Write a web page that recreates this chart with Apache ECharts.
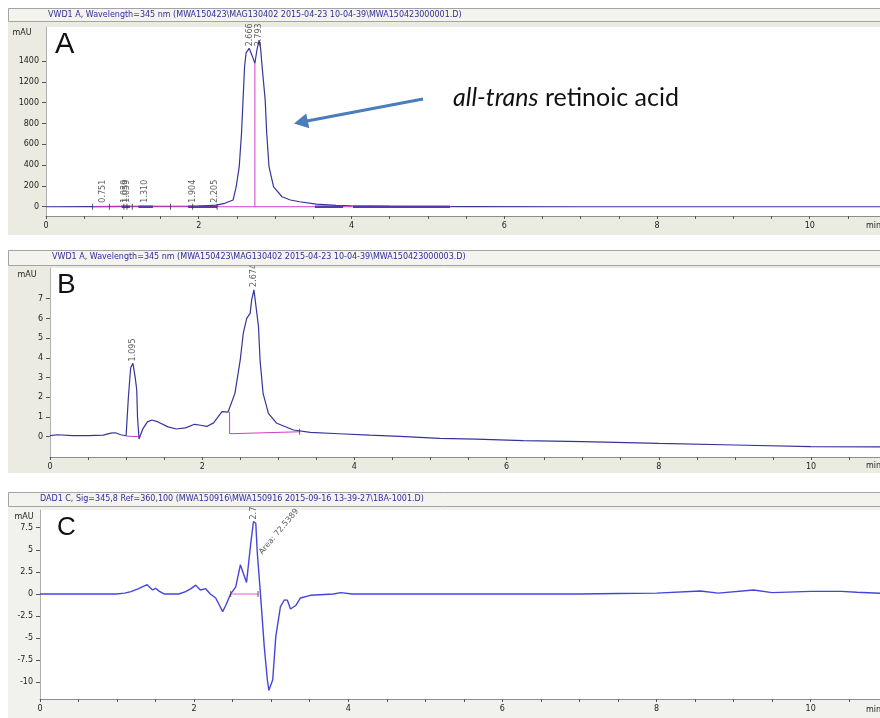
<!DOCTYPE html>
<html><head><meta charset="utf-8">
<script src="https://cdn.jsdelivr.net/npm/echarts@6/dist/echarts.min.js"></script>
<style>html,body{margin:0;padding:0;background:#fff}#c{width:880px;height:718px}</style>
</head><body><div id="c"></div>
<script>
// ---------- Panel A ----------
const aTime  = [0, 0.6, 1.0, 1.5, 2.0, 2.23, 2.34, 2.45, 2.49, 2.53, 2.56, 2.58, 2.60, 2.62, 2.66, 2.70, 2.735, 2.76, 2.79, 2.81, 2.83, 2.87, 2.89, 2.92, 2.98, 3.09, 3.2, 3.32, 3.54, 3.8, 4.0, 4.5, 5.5, 7, 9, 10.92];
const aValue = [0, 2, 3, 4, 5, 15, 33, 65, 190, 385, 706, 1025, 1346, 1480, 1523, 1450, 1378, 1500, 1603, 1520, 1346, 1025, 706, 385, 192, 96, 65, 48, 26, 14, 8, 4, 1, 0, 0, 0];
const aPeakTimes  = [0.746, 1.035, 1.055, 1.30, 1.92, 2.21, 2.666, 2.793];
const aPeakLevels = [20, 20, 20, 20, 20, 20, 1523, 1523];
const aPeakLabels = ['0.751', '1.039', '1.059', '1.310', '1.904', '2.205', '2.666', '2.793'];
const aMarkTimes  = [0.61, 0.83, 1.02, 1.06, 1.13, 1.63, 1.92, 2.24];
const aSegStart   = [0.99, 1.21, 1.86, 3.52, 4.02];
const aSegEnd     = [1.10, 1.40, 2.24, 3.89, 5.29];
const aBaseTime   = [0.61, 5.3];
const aBaseValue  = [0, 0];
const aDropTime   = [2.735, 2.735];
const aDropValue  = [0, 1378];
const aYLabels    = [0, 200, 400, 600, 800, 1000, 1200, 1400];

// ---------- Panel B ----------
const bTime  = [0, 0.1, 0.3, 0.5, 0.7, 0.8, 0.86, 0.93, 1.0, 1.03, 1.06, 1.09, 1.12, 1.14, 1.15, 1.17, 1.22, 1.28, 1.34, 1.42, 1.55, 1.66, 1.78, 1.90, 1.98, 2.06, 2.15, 2.26, 2.34, 2.365, 2.43, 2.50, 2.54, 2.585, 2.63, 2.65, 2.68, 2.70, 2.74, 2.76, 2.80, 2.87, 2.98, 3.20, 3.42, 3.8, 4.2, 4.6, 5.12, 5.6, 6.22, 7, 8, 9, 10, 10.91];
const bValue = [0.05, 0.1, 0.05, 0.05, 0.08, 0.18, 0.2, 0.1, 0.05, 2.0, 3.5, 3.72, 3.0, 2.37, 1.0, -0.12, 0.4, 0.75, 0.85, 0.75, 0.5, 0.39, 0.45, 0.63, 0.58, 0.52, 0.7, 1.27, 1.25, 1.27, 2.2, 3.9, 5.25, 6.0, 6.26, 6.94, 7.45, 7.5, 5.58, 3.9, 2.2, 1.18, 0.68, 0.34, 0.22, 0.15, 0.08, 0.02, -0.08, -0.12, -0.2, -0.25, -0.34, -0.42, -0.5, -0.52];
const bPeakTimes  = [1.095, 2.674];
const bPeakLevels = [3.72, 7.5];
const bPeakLabels = ['1.095', '2.674'];
const bBase1Time  = [1.0, 1.17];
const bBase1Value = [0.03, 0.0];
const bBase2Time  = [2.36, 2.36, 3.28];
const bBase2Value = [1.27, 0.15, 0.25];
const bMarkTimes  = [3.28];
const bMarkValues = [0.25];
const bYLabels    = [0, 1, 2, 3, 4, 5, 6, 7];

// ---------- Panel C ----------
const cTime  = [0, 0.5, 0.99, 1.1, 1.18, 1.28, 1.39, 1.46, 1.50, 1.55, 1.61, 1.8, 1.89, 1.96, 2.02, 2.08, 2.15, 2.21, 2.28, 2.33, 2.37, 2.41, 2.47, 2.54, 2.60, 2.68, 2.73, 2.77, 2.80, 2.82, 2.86, 2.91, 2.95, 2.97, 3.02, 3.06, 3.12, 3.17, 3.21, 3.25, 3.32, 3.38, 3.51, 3.81, 3.9, 4.05, 5, 6, 7, 7.5, 8, 8.57, 8.8, 9.26, 9.5, 10, 10.4, 10.6, 10.91];
const cValue = [0, 0, 0, 0.1, 0.26, 0.6, 1.05, 0.45, 0.64, 0.3, 0, 0, 0.26, 0.6, 1.0, 0.45, 0.6, 0, -0.45, -1.3, -2.0, -1.3, -0.05, 0.8, 3.3, 1.3, 5.35, 8.2, 8.0, 4.6, 0.1, -5.96, -9.7, -10.9, -9.7, -4.8, -1.44, -0.68, -0.7, -1.7, -1.3, -0.45, -0.15, 0, 0.15, 0, 0, 0, 0, 0.05, 0.1, 0.34, 0.1, 0.45, 0.15, 0.3, 0.3, 0.2, 0.08];
const cPeakTimes  = [2.775];
const cPeakLevels = [8.2];
const cPeakLabels = ['2.774'];
const cAreaPoint  = [2.85, 4.6];
const cAreaLabel  = 'Area: 72.5389';
const cBaseTime   = [2.475, 2.83];
const cBaseValue  = [0, 0];
const cMarkTimes  = [2.475, 2.83];
const cYLabels    = [-10, -7.5, -5, -2.5, 0, 2.5, 5, 7.5];

// ---------- Texts ----------
const titles = [
  'VWD1 A, Wavelength=345 nm (MWA150423\\MAG130402 2015-04-23 10-04-39\\MWA150423000001.D)',
  'VWD1 A, Wavelength=345 nm (MWA150423\\MAG130402 2015-04-23 10-04-39\\MWA150423000003.D)',
  'DAD1 C, Sig=345,8 Ref=360,100 (MWA150916\\MWA150916 2015-09-16 13-39-27\\1BA-1001.D)'
];
const panelLetters = ['A', 'B', 'C'];

// ---------- helpers ----------
const zip = (xs, ys) => xs.map((x, i) => [x, ys[i]]);
const range = (a, b, s) => { const r = []; for (let v = a; v <= b + 1e-9; v += s) r.push(+v.toFixed(4)); return r; };
const FONT = 'DejaVu Sans';
const LINE_AB = '#35359a';
const LINE_C = '#4545dc';
const MAGENTA = '#d23cc8';

const grids = [
  { left: 46, top: 27, width: 834, height: 189 },
  { left: 50, top: 268, width: 830, height: 189 },
  { left: 40, top: 510, width: 840, height: 189 }
].map(g => Object.assign(g, { show: true, backgroundColor: '#ffffff', borderWidth: 0 }));

const xMax = [10.92, 10.907, 10.9];
const yRange = [[-89, 1728], [-1.03, 8.56], [-11.88, 9.50]];
const yLabels = [aYLabels, bYLabels, cYLabels];
const yMinor = [range(-50, 1700, 50), range(-1, 8.4, 0.2), range(-11.5, 9.5, 0.5)];

const xAxes = xMax.map((m, i) => ({
  gridIndex: i, type: 'value', min: 0, max: m, interval: 0.5,
  axisLine: { onZero: false, lineStyle: { color: '#8c8c8c', width: 1 } },
  axisTick: { length: 3, lineStyle: { color: '#555' } },
  axisLabel: {
    fontFamily: FONT, fontSize: 8, color: '#222', margin: 6, showMaxLabel: false,
    formatter: v => { const r = Math.round(v); return (Math.abs(v - r) < 1e-6 && r % 2 === 0) ? String(r) : ''; }
  },
  splitLine: { show: false }
}));

const yAxes = [];
for (let i = 0; i < 3; i++) {
  yAxes.push({
    gridIndex: i, type: 'value', min: yRange[i][0], max: yRange[i][1],
    axisLine: { show: true, onZero: false, lineStyle: { color: '#b0b0b0' } },
    axisTick: { show: true, length: 4, customValues: yLabels[i], lineStyle: { color: '#555' } },
    axisLabel: { fontFamily: FONT, fontSize: 8, color: '#222', margin: 7, customValues: yLabels[i], formatter: v => String(v) },
    splitLine: { show: false }
  });
  yAxes.push({
    gridIndex: i, type: 'value', min: yRange[i][0], max: yRange[i][1],
    axisLine: { show: false, onZero: false },
    axisTick: { show: true, length: 2, customValues: yMinor[i], lineStyle: { color: '#888' } },
    axisLabel: { show: false },
    splitLine: { show: false }
  });
}

function lineSeries(gi, data, color, width, z) {
  return { type: 'line', xAxisIndex: gi, yAxisIndex: gi * 2, data, showSymbol: false, symbol: 'none',
    lineStyle: { color, width }, silent: true, animation: false, z: z || 2, connectNulls: false };
}
function peakLabels(gi, times, levels, labels) {
  return { type: 'scatter', xAxisIndex: gi, yAxisIndex: gi * 2, symbolSize: 0, silent: true, z: 4,
    data: times.map((t, i) => ({ value: [t, levels[i]], name: labels[i] })),
    label: { show: true, formatter: '{b}', position: 'top', distance: 2, rotate: 90, align: 'left', verticalAlign: 'middle',
      fontFamily: FONT, fontSize: 8, color: '#333' } };
}
function marks(gi, times, values) {
  return { type: 'scatter', xAxisIndex: gi, yAxisIndex: gi * 2, symbol: 'rect', symbolSize: [1, 6], silent: true, z: 4,
    itemStyle: { color: '#333' }, data: times.map((t, i) => [t, values ? values[i] : 0]) };
}

const segData = [];
aSegStart.forEach((s, i) => { segData.push([s, 0], [aSegEnd[i], 0], [aSegEnd[i], '-']); });

const series = [
  lineSeries(0, zip(aTime, aValue), LINE_AB, 1.2),
  lineSeries(0, zip(aBaseTime, aBaseValue), MAGENTA, 1, 3),
  lineSeries(0, zip(aDropTime, aDropValue), MAGENTA, 1, 3),
  lineSeries(0, segData, '#5a3aa8', 2.5, 3),
  peakLabels(0, aPeakTimes, aPeakLevels, aPeakLabels),
  marks(0, aMarkTimes),

  lineSeries(1, zip(bTime, bValue), LINE_AB, 1.2),
  lineSeries(1, zip(bBase1Time, bBase1Value), MAGENTA, 1, 3),
  lineSeries(1, zip(bBase2Time, bBase2Value), MAGENTA, 1, 3),
  peakLabels(1, bPeakTimes, bPeakLevels, bPeakLabels),
  marks(1, bMarkTimes, bMarkValues),

  lineSeries(2, zip(cTime, cValue), LINE_C, 1.4),
  lineSeries(2, zip(cBaseTime, cBaseValue), '#ee55dd', 1.2, 3),
  peakLabels(2, cPeakTimes, cPeakLevels, cPeakLabels),
  marks(2, cMarkTimes),
  { type: 'scatter', xAxisIndex: 2, yAxisIndex: 4, symbolSize: 0, silent: true, z: 4,
    data: [{ value: cAreaPoint, name: cAreaLabel }],
    label: { show: true, formatter: '{b}', position: 'right', distance: 1, rotate: 50, align: 'left', verticalAlign: 'middle',
      fontFamily: FONT, fontSize: 8, color: '#333' } }
];

// ---------- decoration ----------
const frames = [
  { y: 8, h: 227, ty: 8, th: 13, tx: 48, tyc: 15, fill: '#ecebe2' },
  { y: 250, h: 223, ty: 250, th: 15, tx: 52, tyc: 257, fill: '#ecebe2' },
  { y: 492, h: 226, ty: 492, th: 14, tx: 40, tyc: 499, fill: '#f1f1ee' }
];
const graphics = [];
frames.forEach((f, i) => {
  graphics.push({ type: 'rect', z: -10, shape: { x: 8, y: f.y, width: 872, height: f.h }, style: { fill: f.fill } });
  graphics.push({ type: 'rect', z: 10, shape: { x: 8.5, y: f.ty + 0.5, width: 872, height: f.th }, style: { fill: '#f4f3ee', stroke: '#a4a4a4', lineWidth: 1 } });
  graphics.push({ type: 'text', z: 11, style: { text: titles[i], x: f.tx, y: f.tyc, align: 'left', verticalAlign: 'middle', font: '8px "DejaVu Sans"', fill: '#2e2e9e' } });
});
const mauPos = [[22, 33], [27, 275], [24, 517]];
mauPos.forEach(p => graphics.push({ type: 'text', z: 11, style: { text: 'mAU', x: p[0], y: p[1], align: 'center', verticalAlign: 'middle', font: '8px "DejaVu Sans"', fill: '#222' } }));
const minPos = [226, 466, 710];
minPos.forEach(y => graphics.push({ type: 'text', z: 11, style: { text: 'min', x: 866, y, align: 'left', verticalAlign: 'middle', font: '8px "DejaVu Sans"', fill: '#222' } }));
const letterPos = [[55, 45, 29], [57, 285, 28], [57, 528, 26]];
letterPos.forEach((p, i) => graphics.push({ type: 'text', z: 11, style: { text: panelLetters[i], x: p[0], y: p[1], align: 'left', verticalAlign: 'middle', font: p[2] + 'px "Liberation Sans"', fill: '#111' } }));
// annotation
graphics.push({ type: 'line', z: 11, shape: { x1: 423, y1: 99, x2: 307, y2: 121 }, style: { stroke: '#4a7ebb', lineWidth: 3 } });
graphics.push({ type: 'polygon', z: 11, shape: { points: [[294, 123.5], [309.3, 128.2], [306.2, 113.6]] }, style: { fill: '#4a7ebb' } });
graphics.push({ type: 'text', z: 11, style: { text: '{i|all-trans}{n| retinoic acid}', x: 453, y: 98, align: 'left', verticalAlign: 'middle',
  rich: { i: { fontStyle: 'italic', fontSize: 25, fontFamily: 'Lato', fill: '#111' }, n: { fontSize: 25, fontFamily: 'Lato', fill: '#111' } } } });

const chart = echarts.init(document.getElementById('c'), null, { renderer: 'canvas' });
chart.setOption({
  animation: false,
  backgroundColor: '#ffffff',
  grid: grids,
  xAxis: xAxes,
  yAxis: yAxes,
  series,
  graphic: { elements: graphics }
});
</script>
</body></html>
